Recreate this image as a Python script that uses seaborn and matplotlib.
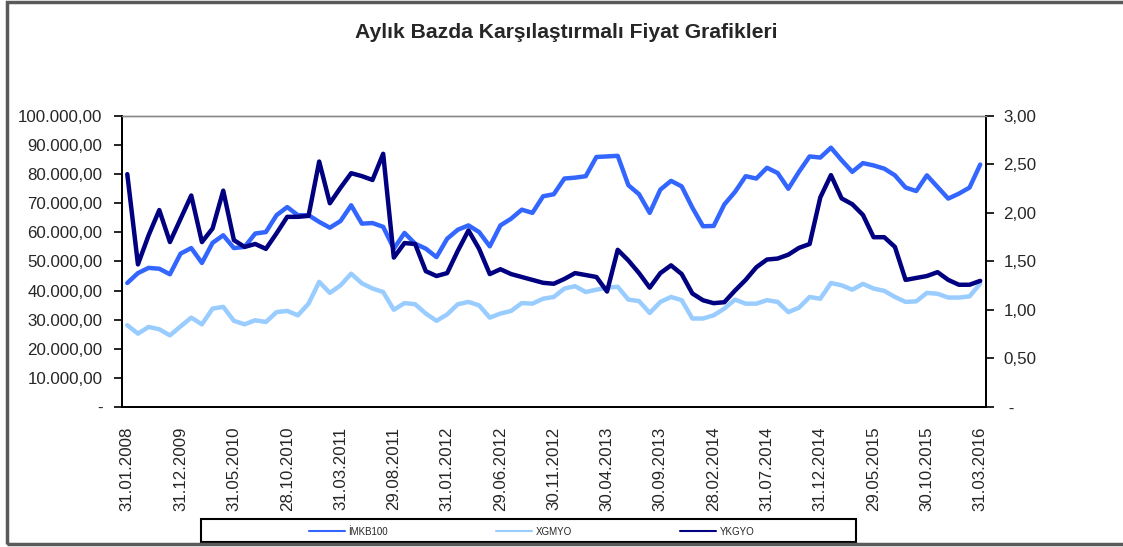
import numpy as np
import pandas as pd
import matplotlib
matplotlib.use("Agg")
import matplotlib.pyplot as plt
import seaborn as sns
from matplotlib.ticker import FuncFormatter, FixedLocator
from matplotlib.patches import Rectangle

# tarih etiketleri (her 5 ayda bir gosterilen)
tick_labels = ["31.01.2008", "31.12.2009", "31.05.2010", "28.10.2010", "31.03.2011",
               "29.08.2011", "31.01.2012", "29.06.2012", "30.11.2012", "30.04.2013",
               "30.09.2013", "28.02.2014", "31.07.2014", "31.12.2014", "29.05.2015",
               "30.10.2015", "31.03.2016"]

imkb100 = [42600, 46000, 47800, 47500, 45600, 52700, 54600, 49500, 56400, 59000, 54600,
           55000, 59600, 60100, 65900, 68700, 65900, 65900, 63600, 61600, 63900, 69300,
           63000, 63200, 61900, 54400, 59800, 56100, 54400, 51500, 57800, 60900, 62400,
           60100, 55200, 62400, 64700, 67800, 66700, 72400, 73100, 78500, 78800, 79300,
           85900, 86100, 86300, 76200, 73100, 66700, 74700, 77700, 75800, 68500, 62100,
           62200, 69600, 73900, 79300, 78500, 82200, 80400, 75000, 80800, 86100, 85700,
           89100, 84800, 80800, 83800, 83000, 81900, 79600, 75400, 74200, 79600, 75600,
           71600, 73300, 75400, 83300]

xgmyo = [28100, 25200, 27500, 26700, 24600, 27700, 30700, 28400, 33800, 34400, 29600,
         28400, 29800, 29200, 32600, 33000, 31500, 35500, 43000, 39200, 41800, 45800,
         42500, 40700, 39500, 33400, 35700, 35300, 32100, 29600, 31800, 35300, 36100,
         34900, 30700, 32100, 33000, 35700, 35500, 37200, 37800, 40700, 41500, 39500,
         40300, 41000, 41300, 36900, 36400, 32300, 36100, 37800, 36700, 30400, 30400,
         31500, 33800, 36900, 35500, 35500, 36700, 36100, 32600, 34100, 37800, 37200,
         42600, 41800, 40300, 42300, 40700, 39900, 37800, 36100, 36300, 39200, 38900,
         37600, 37600, 38000, 42400]

ykgyo = [2.40, 1.47, 1.77, 2.03, 1.70, 1.94, 2.18, 1.70, 1.84, 2.23, 1.72,
         1.65, 1.68, 1.63, 1.79, 1.96, 1.96, 1.97, 2.53, 2.10, 2.26, 2.41,
         2.38, 2.34, 2.61, 1.54, 1.69, 1.68, 1.40, 1.35, 1.38, 1.61, 1.82,
         1.63, 1.37, 1.42, 1.37, 1.34, 1.31, 1.28, 1.27, 1.32, 1.38, 1.36,
         1.34, 1.19, 1.62, 1.51, 1.38, 1.23, 1.38, 1.46, 1.37, 1.17, 1.10,
         1.07, 1.08, 1.20, 1.31, 1.44, 1.52, 1.53, 1.57, 1.64, 1.68, 2.16,
         2.39, 2.15, 2.09, 1.98, 1.75, 1.75, 1.65, 1.31, 1.33, 1.35, 1.39,
         1.31, 1.26, 1.26, 1.30]

sns.set_style("white")
plt.rcParams['font.family'] = ['Liberation Sans', 'DejaVu Sans']

c_imkb = "#3366FF"
c_xgm = "#99CCFF"
c_yk = "#000080"

df = pd.DataFrame({"idx": np.arange(len(imkb100)), "imkb": imkb100, "xgm": xgmyo, "yk": ykgyo})

fig = plt.figure(figsize=(11.23, 5.47), dpi=100)
ax = fig.add_axes([0.1086, 0.256, 0.769, 0.532])
ax2 = ax.twinx()

sns.lineplot(data=df, x="idx", y="imkb", ax=ax, color=c_imkb, lw=3.2, label="İMKB100", legend=False)
sns.lineplot(data=df, x="idx", y="xgm", ax=ax, color=c_xgm, lw=3.2, label="XGMYO", legend=False)
sns.lineplot(data=df, x="idx", y="yk", ax=ax2, color=c_yk, lw=3.2, label="YKGYO", legend=False)

n = len(imkb100)
ax.set_xlim(-0.5, n - 0.5)
ax.set_ylim(0, 100000)
ax2.set_ylim(0, 3)
ax.set_yticks(np.arange(0, 100001, 10000))
ax2.set_yticks(np.arange(0, 3.01, 0.5))

def tr_fmt(v, pos):
    if abs(v) < 1e-9:
        return "-"
    s = f"{v:,.2f}"
    return s.replace(",", "X").replace(".", ",").replace("X", ".")

ax.yaxis.set_major_formatter(FuncFormatter(tr_fmt))
ax2.yaxis.set_major_formatter(FuncFormatter(lambda v, p: " -" if abs(v) < 1e-9 else tr_fmt(v, p)))

ax.set_xticks(np.arange(0, n, 5))
ax.set_xticklabels(tick_labels, rotation=90)
ax.xaxis.set_minor_locator(FixedLocator(np.arange(-0.5, n, 5)))
ax.tick_params(axis="x", which="major", length=0, pad=14, labelsize=12.2)
ax.tick_params(axis="x", which="minor", length=6, direction="inout", width=1.2, color="black")
ax.tick_params(axis="y", length=6, width=1.2, direction="out", color="black", labelsize=12.2, pad=8, left=True)
ax2.tick_params(axis="y", length=6, width=1.2, direction="out", color="black", labelsize=12.2, pad=7, right=True)
ax.set_xlabel("")
ax.set_ylabel("")
ax2.set_ylabel("")

for a in (ax, ax2):
    for side in ("left", "right", "bottom"):
        a.spines[side].set_color("black")
        a.spines[side].set_linewidth(1.3)
    a.spines["top"].set_color("#888888")
    a.spines["top"].set_linewidth(1.0)

fig.text(0.5045, 0.94, "Aylık Bazda Karşılaştırmalı Fiyat Grafikleri", ha="center", va="center",
         fontsize=15.2, fontweight="bold")

# legend kutusu
fig.patches.append(Rectangle((0.179, 0.0091), 0.5833, 0.042, transform=fig.transFigure,
                             fill=False, edgecolor="black", lw=1.5, zorder=5))

h1, l1 = ax.get_legend_handles_labels()
h2, l2 = ax2.get_legend_handles_labels()
leg = fig.legend(h1 + h2, l1 + l2, loc="center left", ncol=3,
                 bbox_to_anchor=(0.2752, 0.0283), fontsize=7,
                 frameon=False, handlelength=3.7, handletextpad=0.3,
                 columnspacing=11.2, borderaxespad=0, borderpad=0)
for line in leg.get_lines():
    line.set_linewidth(1.5)

fig.patches.append(Rectangle((0.0062, 0.0055), 1.1, 0.991, transform=fig.transFigure,
                             fill=False, edgecolor="#5a5a5a", lw=2.5, zorder=10))

fig.savefig("out.png", dpi=100)
